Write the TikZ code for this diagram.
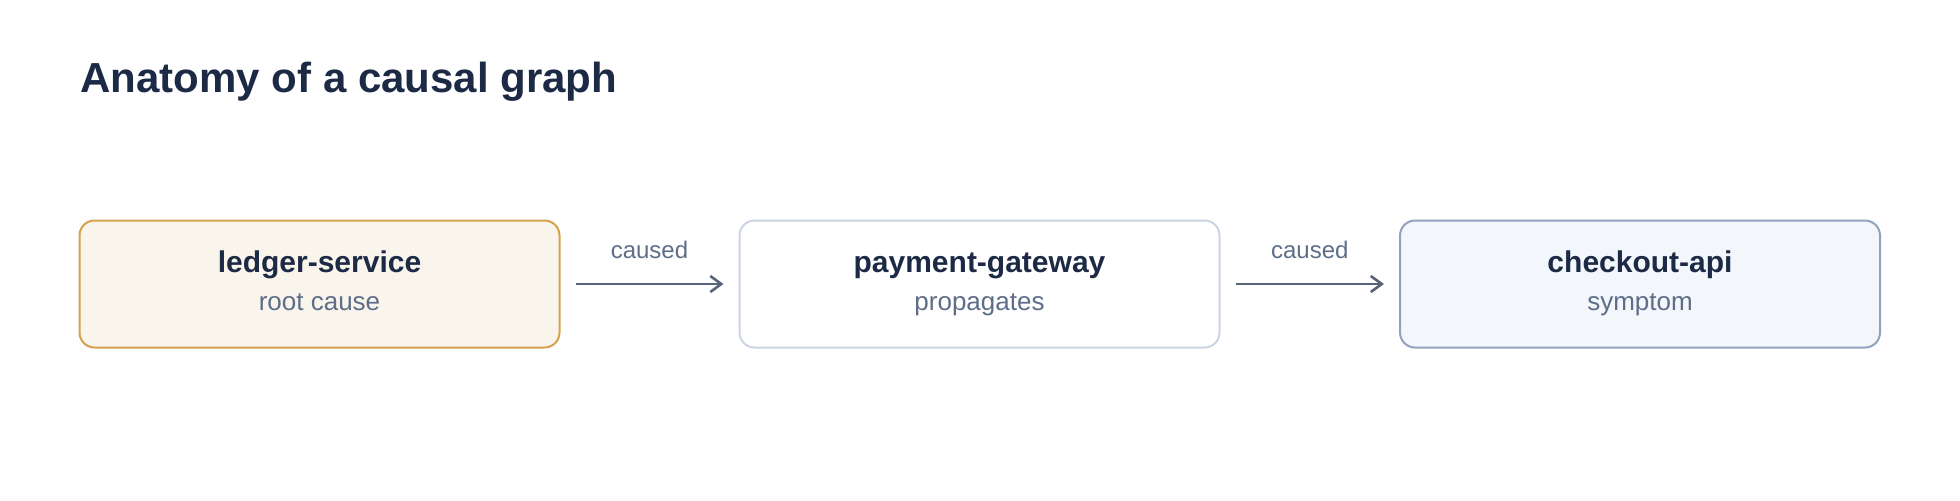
\documentclass[tikz,border=0pt]{standalone}
\usepackage{fontspec}
\setmainfont{Liberation Sans}
\usetikzlibrary{arrows.meta}
\definecolor{navy}{HTML}{1C2A45}
\definecolor{subtx}{HTML}{5E6E88}
\definecolor{arrowc}{HTML}{5A6479}
\definecolor{rootfill}{HTML}{FAF5EC}
\definecolor{rootline}{HTML}{D4A24C}
\definecolor{propline}{HTML}{CBD5E1}
\definecolor{symfill}{HTML}{F3F7FC}
\definecolor{symline}{HTML}{8FA3BF}
\tikzset{
  card/.style={draw, rounded corners=7.5pt, line width=1pt, minimum width=240pt, minimum height=63.5pt, inner sep=0pt},
  cardname/.style={anchor=base, inner sep=0pt, text=navy, font=\fontsize{15pt}{18pt}\selectfont\bfseries},
  cardsub/.style={anchor=base, inner sep=0pt, text=subtx, font=\fontsize{13pt}{16pt}\selectfont},
  conn/.style={draw=arrowc, line width=1.3pt, -{Straight Barb[length=5.5pt,width=8pt]}, shorten <=7.5pt, shorten >=7.5pt},
  lbl/.style={anchor=base, inner sep=0pt, text=subtx, font=\fontsize{12pt}{14pt}\selectfont}
}
\begin{document}
\begin{tikzpicture}[x=0.5pt,y=-0.5pt]
\useasboundingbox[fill=white] (0,0) rectangle (1960,500);
\node[anchor=base west, inner sep=0pt, text=navy, font=\fontsize{21pt}{25pt}\selectfont\bfseries] (title) at (80,92) {Anatomy of a causal graph};
\node[card, fill=rootfill, draw=rootline] (b1) at (319.5,284) {};
\node[card, fill=white, draw=propline] (b2) at (979.5,284) {};
\node[card, fill=symfill, draw=symline] (b3) at (1640,284) {};
\node[cardname] (n1) at (319.5,272) {ledger-service};
\node[cardsub] (s1) at (319.5,310) {root cause};
\node[cardname] (n2) at (979.5,272) {payment-gateway};
\node[cardsub] (s2) at (979.5,310) {propagates};
\node[cardname] (n3) at (1640,272) {checkout-api};
\node[cardsub] (s3) at (1640,310) {symptom};
\draw[conn] (b1) -- node[lbl, midway, yshift=13pt] (l1) {caused} (b2);
\draw[conn] (b2) -- node[lbl, midway, yshift=13pt] (l2) {caused} (b3);
\end{tikzpicture}
\end{document}
